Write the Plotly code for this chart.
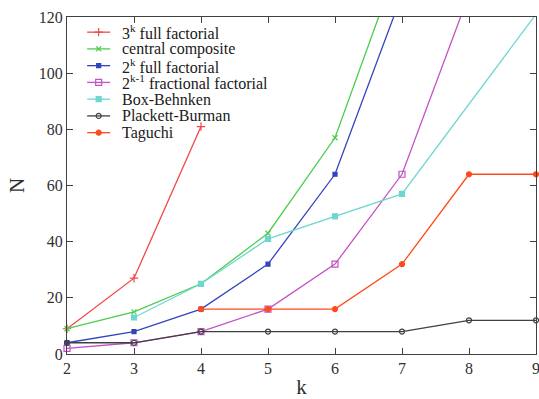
import plotly.graph_objects as go

# Number of runs N required by each design, versus number of factors k
k_3k = [2, 3, 4]
n_3k = [9, 27, 81]

k_cc = [2, 3, 4, 5, 6, 7]
n_cc = [9, 15, 25, 43, 77, 143]

k_2k = [2, 3, 4, 5, 6, 7]
n_2k = [4, 8, 16, 32, 64, 128]

k_2k1 = [2, 3, 4, 5, 6, 7, 8]
n_2k1 = [2, 4, 8, 16, 32, 64, 128]

k_bb = [3, 4, 5, 6, 7, 9]
n_bb = [13, 25, 41, 49, 57, 121]

k_pb = [2, 3, 4, 5, 6, 7, 8, 9]
n_pb = [4, 4, 8, 8, 8, 8, 12, 12]

k_tg = [4, 5, 6, 7, 8, 9]
n_tg = [16, 16, 16, 32, 64, 64]

x_ticks = [2, 3, 4, 5, 6, 7, 8, 9]
y_ticks = [0, 20, 40, 60, 80, 100, 120]

SERIF = "Liberation Serif, Times New Roman, serif"

series = [
    ("3<sup>k</sup> full factorial", k_3k, n_3k, "#f04848", "cross-thin", 6),
    ("central composite", k_cc, n_cc, "#4ccc4c", "x-thin", 5),
    ("2<sup>k</sup> full factorial", k_2k, n_2k, "#3444bc", "square", 4),
    ("2<sup>k-1</sup> fractional factorial", k_2k1, n_2k1, "#c452c4", "square-open", 6),
    ("Box-Behnken", k_bb, n_bb, "#6fd6d0", "square", 5),
    ("Plackett-Burman", k_pb, n_pb, "#404040", "circle-open", 5),
    ("Taguchi", k_tg, n_tg, "#ff4a1c", "circle", 5),
]

fig = go.Figure()
for name, xs, ys, color, sym, size in series:
    fig.add_trace(go.Scatter(
        x=xs, y=ys, name=name, mode="lines+markers", showlegend=False,
        line=dict(color=color, width=1.3),
        marker=dict(symbol=sym, size=size, color=color,
                    line=dict(color=color, width=1.2)),
        cliponaxis=False,
    ))

# Key drawn inside the upper-left corner of the plot (paper coordinates)
key_x0, key_x1, key_text_x = 0.043, 0.092, 0.112
key_top, key_step = 0.955, 0.0497
key_y = [key_top - i * key_step for i in range(len(series))]
for (name, xs, ys, color, sym, size), yk in zip(series, key_y):
    fig.add_shape(type="line", xref="paper", yref="paper",
                  x0=key_x0, x1=key_x1, y0=yk, y1=yk,
                  line=dict(color=color, width=1.3))
    fig.add_annotation(xref="paper", yref="paper", x=key_text_x, y=yk,
                       xanchor="left", yanchor="middle", showarrow=False,
                       text=name, font=dict(family=SERIF, size=16, color="#202020"))
    fig.add_trace(go.Scatter(
        x=[(key_x0 + key_x1) / 2], y=[yk], xaxis="x2", yaxis="y2",
        mode="markers", showlegend=False, hoverinfo="skip",
        marker=dict(symbol=sym, size=size, color=color,
                    line=dict(color=color, width=1.2)),
    ))

axis_common = dict(
    showgrid=False, zeroline=False, showline=True, mirror="ticks",
    linecolor="#404040", linewidth=1.2, ticks="inside", ticklen=6,
    tickcolor="#404040", tickwidth=1, ticklabeloverflow="allow",
    automargin=False,
    tickfont=dict(family=SERIF, size=16, color="#303030"),
)

fig.update_layout(
    width=539, height=399,
    margin=dict(l=67, r=3, t=17, b=45),
    paper_bgcolor="white", plot_bgcolor="white",
    xaxis=dict(range=[2, 9], tickvals=x_ticks, ticktext=[str(v) for v in x_ticks],
               title=dict(text="k", font=dict(family=SERIF, size=21, color="#303030"),
                          standoff=4),
               **axis_common),
    yaxis=dict(range=[0, 120], tickvals=y_ticks, ticktext=[str(v) for v in y_ticks],
               title=dict(text="N", font=dict(family=SERIF, size=21, color="#303030"),
                          standoff=8),
               **axis_common),
    xaxis2=dict(overlaying="x", range=[0, 1], visible=False, fixedrange=True),
    yaxis2=dict(overlaying="y", range=[0, 1], visible=False, fixedrange=True),
    showlegend=False,
)

fig.write_html("out.html")
